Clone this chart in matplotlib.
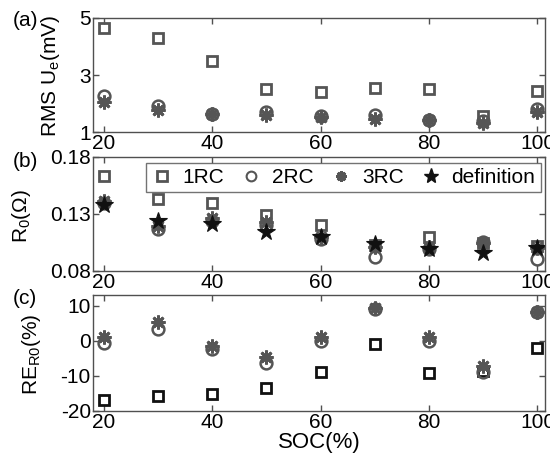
import matplotlib
matplotlib.use("Agg")
import matplotlib.pyplot as plt
from matplotlib.lines import Line2D

plt.rcParams['font.family'] = ['Liberation Sans', 'DejaVu Sans']
plt.rcParams['mathtext.fontset'] = 'custom'
plt.rcParams['mathtext.rm'] = 'Liberation Sans'
plt.rcParams['mathtext.it'] = 'Liberation Sans'

soc = [20, 30, 40, 50, 60, 70, 80, 90, 100]

# (a) RMS of terminal voltage error, mV
rms_1rc = [4.65, 4.28, 3.50, 2.52, 2.41, 2.56, 2.50, 1.57, 2.45]
rms_2rc = [2.27, 1.90, 1.64, 1.70, 1.57, 1.60, 1.43, 1.40, 1.82]
rms_3rc = [2.07, 1.78, 1.64, 1.60, 1.52, 1.46, 1.43, 1.32, 1.72]

# (b) ohmic resistance R0, ohm
r0_1rc = [0.163, 0.1427, 0.1398, 0.1294, 0.1200, 0.1030, 0.1100, 0.1045, 0.1020]
r0_2rc = [0.1398, 0.1170, 0.1240, 0.1205, 0.1080, 0.0924, 0.0995, 0.1057, 0.0906]
r0_3rc = [0.1410, 0.1190, 0.1260, 0.1230, 0.1100, 0.1010, 0.1010, 0.1040, 0.1000]
r0_def = [0.1380, 0.1234, 0.1214, 0.1137, 0.1093, 0.1037, 0.0993, 0.0960, 0.1000]

# (c) relative error of R0, %
re_1rc = [-17.0, -15.7, -15.1, -13.4, -8.9, -0.8, -9.3, -8.6, -2.2]
re_2rc = [-0.75, 3.3, -2.4, -6.3, 0.0, 9.0, 0.0, -8.9, 8.1]
re_3rc = [1.0, 5.3, -1.5, -4.6, 1.0, 9.2, 1.0, -7.2, 8.1]

xticks = [20, 40, 60, 80, 100]
gray = '#555555'
spine = '#505050'
fs = 15

fig = plt.figure(figsize=(5.5, 4.59), dpi=100)
L, W = 0.169, 0.822
ax_a = fig.add_axes([L, 0.712, W, 0.249])
ax_b = fig.add_axes([L, 0.410, W, 0.248])
ax_c = fig.add_axes([L, 0.105, W, 0.252])

sq = dict(marker='s', ls='none', ms=7.5, mfc='none', mew=2.0)
ci = dict(marker='o', ls='none', ms=8.5, mfc='none', mec=gray, mew=1.8)
ast = dict(marker=(8, 2, 0), ls='none', ms=10, mec=gray, mfc=gray, mew=2.0, color=gray)
st = dict(marker='*', ls='none', ms=13, mfc='#111111', mec='#111111', mew=0.8)

ax_a.plot(soc, rms_1rc, mec=gray, **sq)
ax_a.plot(soc, rms_2rc, **ci)
ax_a.plot(soc, rms_3rc, **ast)

ax_b.plot(soc, r0_1rc, mec=gray, **sq)
ax_b.plot(soc, r0_2rc, **ci)
ax_b.plot(soc, r0_3rc, **ast)
ax_b.plot(soc, r0_def, **st)

ax_c.plot(soc, re_1rc, mec='#111111', **sq)
ax_c.plot(soc, re_2rc, **ci)
ax_c.plot(soc, re_3rc, **ast)

for ax in (ax_a, ax_b, ax_c):
    ax.set_xlim(18, 101.4)
    ax.set_xticks(xticks)
    ax.tick_params(direction='in', top=True, right=True, labelsize=fs,
                   length=4, width=1.0, color=spine, pad=1.5)
    for s in ax.spines.values():
        s.set_color(spine)
        s.set_linewidth(1.0)

ax_a.set_ylim(1, 5)
ax_a.set_yticks([1, 3, 5])
ax_b.set_ylim(0.08, 0.18)
ax_b.set_yticks([0.08, 0.13, 0.18])
ax_b.set_yticklabels(['0.08', '0.13', '0.18'])
ax_c.set_ylim(-20, 13)
ax_c.set_yticks([-20, -10, 0, 10])
ax_c.set_yticklabels(['-20', '-10', '0', '10'])

ax_a.set_ylabel(r'RMS U$_\mathregular{e}$(mV)', fontsize=fs)
ax_b.set_ylabel(r'R$_\mathregular{0}$($\Omega$)', fontsize=fs)
ax_c.set_ylabel(r'RE$_\mathregular{R0}$(%)', fontsize=fs)
ax_c.set_xlabel('SOC(%)', fontsize=fs + 1, labelpad=0)

ax_a.yaxis.set_label_coords(-0.069, 0.49)
ax_b.yaxis.set_label_coords(-0.133, 0.48)
ax_c.yaxis.set_label_coords(-0.110, 0.49)

fig.text(0.023, 0.976, '(a)', fontsize=fs, va='top', ha='left')
fig.text(0.023, 0.669, '(b)', fontsize=fs, va='top', ha='left')
fig.text(0.023, 0.370, '(c)', fontsize=fs, va='top', ha='left')

handles = [
    Line2D([], [], marker='s', ls='none', ms=7.5, mfc='none', mec=gray, mew=2.0),
    Line2D([], [], marker='o', ls='none', ms=7, mfc='none', mec=gray, mew=1.5),
    Line2D([], [], marker=(8, 2, 0), ls='none', ms=7.5, mec=gray, mfc=gray, mew=2.0),
    Line2D([], [], marker='*', ls='none', ms=11, mfc='#111111', mec='#111111'),
]
leg = ax_b.legend(handles, ['1RC', '2RC', '3RC', 'definition'], ncol=4,
                  loc='upper right', bbox_to_anchor=(0.99, 0.95),
                  fontsize=fs, frameon=True, fancybox=False,
                  handlelength=1.0, handletextpad=0.5, columnspacing=0.8,
                  borderpad=0.25, borderaxespad=0.0)
leg.get_frame().set_edgecolor(spine)
leg.get_frame().set_linewidth(1.0)

fig.savefig('out.png', dpi=100)
